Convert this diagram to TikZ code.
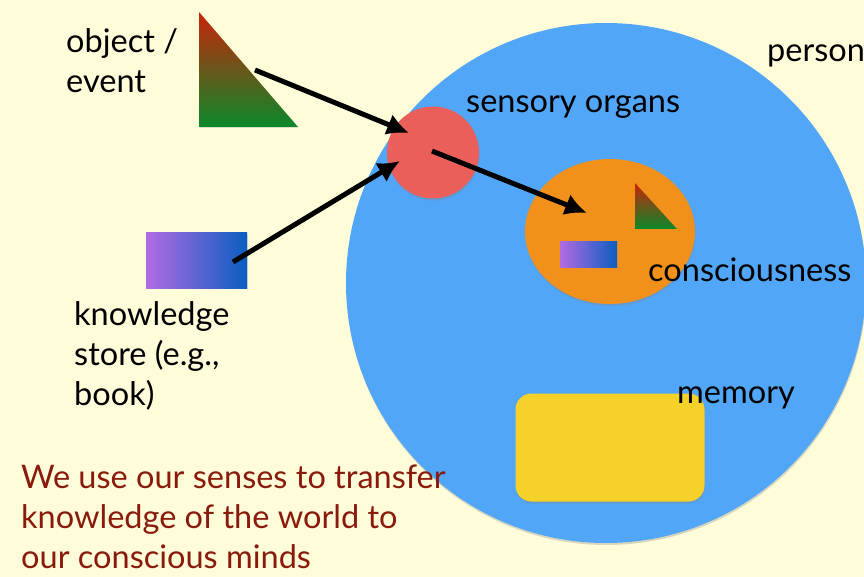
\documentclass[tikz,border=0pt]{standalone}
\usepackage{fontspec}
\setmainfont{Lato}
\usetikzlibrary{arrows.meta,shadows,shapes.geometric}
\definecolor{bgcream}{HTML}{FFFDD9}
\definecolor{personblue}{HTML}{52A6F8}
\definecolor{senseRed}{HTML}{EB5F5A}
\definecolor{mindOrange}{HTML}{F1901B}
\definecolor{memYellow}{HTML}{F5D22A}
\definecolor{triTop}{HTML}{C8250A}
\definecolor{triBot}{HTML}{0A882A}
\definecolor{bookLeft}{HTML}{B26BE2}
\definecolor{bookRight}{HTML}{0A5EC2}
\definecolor{noteRed}{HTML}{891A0C}
\tikzset{
  softshadow/.style={drop shadow={opacity=0.3,shadow xshift=0.5pt,shadow yshift=-2pt}},
  label/.style={anchor=base west,inner sep=0pt,align=left,font=\fontsize{32.5}{40}\selectfont,text=black},
  conn/.style={line width=5pt,-{Latex[length=22pt,width=22pt]}},
}
\begin{document}
\begin{tikzpicture}[x=1pt,y=-1pt]
\fill[bgcream] (0,0) rectangle (864,577);
\useasboundingbox (0,0) rectangle (864,577);

% person
\node[circle,minimum size=520pt,inner sep=0pt,fill=personblue,softshadow] (person) at (606,283) {};

% object / event triangle
\shade[top color=triTop,bottom color=triBot,drop shadow={opacity=0.25,shadow xshift=0.5pt,shadow yshift=-1pt}]
  (199,12) -- (199,127) -- (298,127) -- cycle;
\coordinate (obj) at (255,70);

% knowledge store rectangle
\node[rectangle,inner sep=0pt,minimum width=101pt,minimum height=55pt,left color=bookLeft,right color=bookRight,drop shadow={opacity=0.25,shadow xshift=0.5pt,shadow yshift=-1pt}] (book) at (196.5,260.5) {};
\coordinate (bookc) at (233,262);

% sensory organs
\node[circle,minimum size=92pt,inner sep=0pt,fill=senseRed,softshadow] (sense) at (433,152.5) {};
\coordinate (senseA) at (409,133);
\coordinate (senseB) at (400,161);
\coordinate (senseC) at (432,151);

% consciousness
\node[ellipse,minimum width=170pt,minimum height=145pt,inner sep=0pt,fill=mindOrange,softshadow] (mind) at (610,231.5) {};
\coordinate (mindIn) at (587,213);
\shade[top color=triTop,bottom color=triBot] (635,183) -- (635,229) -- (677,229) -- cycle;
\node[rectangle,inner sep=0pt,minimum width=57pt,minimum height=25pt,left color=bookLeft,right color=bookRight] (minibook) at (588.5,254.5) {};

% memory
\node[rectangle,rounded corners=16pt,inner sep=0pt,minimum width=189pt,minimum height=108pt,fill=memYellow,softshadow] (memory) at (610,447.5) {};

% connectors
\draw[conn] (obj) -- (senseA);
\draw[conn] (bookc) -- (senseB);
\draw[conn] (senseC) -- (mindIn);

% labels
\node[label] (tobj) at (66,93) {object /\\event};
\node[label] (tbook) at (74,405) {knowledge\\store (e.g.,\\book)};
\node[label] (tsense) at (466,113) {sensory organs};
\node[label] (tperson) at (767,62) {person};
\node[label] (tmind) at (648,281) {consciousness};
\node[label] (tmem) at (677,403) {memory};
\node[label,text=noteRed] (tnote) at (21,568) {We use our senses to transfer\\knowledge of the world to\\our conscious minds};
\end{tikzpicture}
\end{document}
